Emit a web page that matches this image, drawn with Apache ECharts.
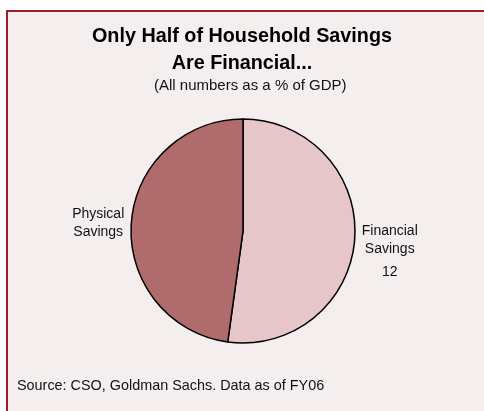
<!DOCTYPE html>
<html>
<head>
<meta charset="utf-8">
<script src="https://cdn.jsdelivr.net/npm/echarts@6/dist/echarts.min.js"></script>
<style>
  html, body { margin: 0; padding: 0; background: #ffffff; overflow: hidden; }
  #chart { width: 484px; height: 411px; }
</style>
</head>
<body>
<div id="chart"></div>
<script>
// Household savings split, % of GDP
const categories = ['Financial Savings', 'Physical Savings'];
const values = [12, 11];
const showValue = [true, false];
const sliceColors = ['#e6c6c9', '#b06b6c'];

const FONT = '"Liberation Sans", Arial, sans-serif';

const chart = echarts.init(document.getElementById('chart'), null, { renderer: 'canvas' });

const pieData = categories.map((name, i) => ({
  name: name,
  value: values[i],
  itemStyle: { color: sliceColors[i] },
  label: showValue[i]
    ? { formatter: '{n|' + name.replace(' ', '\n') + '}\n{v|{c}}', padding: [24, 0, 0, 0] }
    : { formatter: '{n|' + name.replace(' ', '\n') + '}' }
}));

chart.setOption({
  backgroundColor: '#ffffff',
  animation: false,
  graphic: [{
    type: 'rect',
    z: -10,
    shape: { x: 6, y: 10, width: 500, height: 420 },
    style: { fill: '#f5eeee' }
  }, {
    // panel frame: left and top edges only
    type: 'polyline',
    z: -9,
    shape: { points: [[7, 420], [7, 11], [500, 11]] },
    style: { stroke: '#9c1f28', lineWidth: 2, fill: null }
  }],
  title: [{
    text: 'Only Half of Household Savings\nAre Financial...',
    left: 'center',
    top: 18,
    textStyle: { fontFamily: FONT, fontSize: 19.8, fontWeight: 'bold', color: '#000', lineHeight: 27 }
  }, {
    text: '(All numbers as a % of GDP)',
    left: 149,
    top: 72,
    textStyle: { fontFamily: FONT, fontSize: 15, fontWeight: 'normal', color: '#111', lineHeight: 18 }
  }, {
    text: 'Source: CSO, Goldman Sachs. Data as of FY06',
    left: 12,
    top: 372,
    textStyle: { fontFamily: FONT, fontSize: 14.4, fontWeight: 'normal', color: '#111', lineHeight: 18 }
  }],
  series: [{
    type: 'pie',
    center: [243, 231],
    radius: 112,
    startAngle: 90,
    clockwise: true,
    avoidLabelOverlap: false,
    itemStyle: { borderColor: '#000', borderWidth: 1.5 },
    emphasis: { disabled: true },
    labelLine: { show: false, length: 0, length2: 0 },
    label: {
      show: true,
      position: 'outside',
      distanceToLabelLine: 7,
      fontFamily: FONT,
      color: '#111',
      rich: {
        n: { fontFamily: FONT, fontSize: 14, lineHeight: 18, color: '#111', align: 'center' },
        v: { fontFamily: FONT, fontSize: 14, lineHeight: 22, color: '#111', align: 'center', padding: [6, 0, 0, 0] }
      }
    },
    data: pieData
  }]
});
</script>
</body>
</html>
